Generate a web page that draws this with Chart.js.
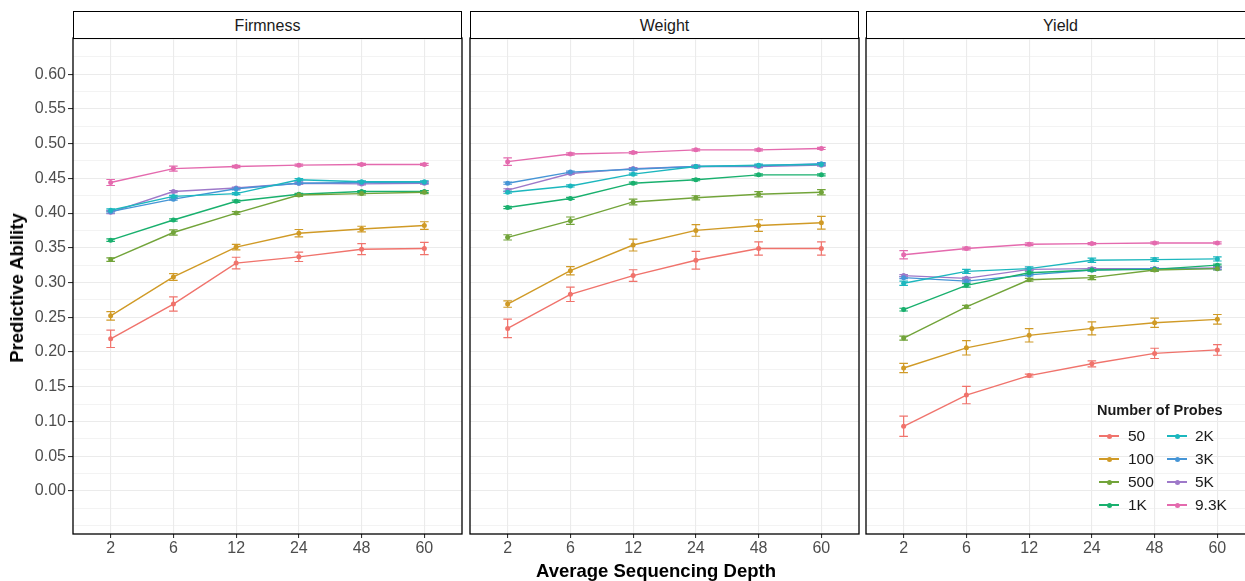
<!DOCTYPE html>
<html><head><meta charset="utf-8">
<script src="https://cdn.jsdelivr.net/npm/chart.js@4/dist/chart.umd.min.js"></script>
<style>
body{margin:0;width:1245px;height:581px;overflow:hidden;background:#fff;position:relative;font-family:"Liberation Sans",Arial,sans-serif}
canvas{position:absolute;left:0;top:0}
.strip{position:absolute;top:11px;height:28px;line-height:27px;text-align:center;font-size:16px;color:#1a1a1a;border:1.3px solid #000;box-sizing:border-box;background:#fff}
.ytitle{position:absolute;left:17px;top:288px;transform:translate(-50%,-50%) rotate(-90deg);font-weight:bold;font-size:18.5px;color:#000;white-space:nowrap}
.xtitle{position:absolute;left:656px;top:571px;transform:translate(-50%,-50%);font-weight:bold;font-size:18.5px;color:#000;white-space:nowrap}
.lg{position:absolute;white-space:nowrap}
</style>
</head><body>
<script>
// ---------- data ----------
const depthLabels = ['2','6','12','24','48','60'];
const probeLabels = ['50','100','500','1K','2K','3K','5K','9.3K'];
const traitNames = ['Firmness','Weight','Yield'];
const yTickLabels = ['0.00','0.05','0.10','0.15','0.20','0.25','0.30','0.35','0.40','0.45','0.50','0.55','0.60'];

const firmnessMean = [
  [0.219,0.269,0.328,0.337,0.348,0.349],
  [0.252,0.308,0.351,0.371,0.377,0.382],
  [0.333,0.372,0.400,0.426,0.428,0.430],
  [0.361,0.390,0.417,0.427,0.431,0.431],
  [0.404,0.424,0.428,0.448,0.445,0.445],
  [0.402,0.420,0.435,0.443,0.444,0.444],
  [0.401,0.431,0.436,0.443,0.442,0.443],
  [0.444,0.464,0.467,0.469,0.470,0.470]
];
const firmnessErr = [
  [0.0125,0.0103,0.0084,0.0067,0.0079,0.0089],
  [0.0062,0.0048,0.0040,0.0053,0.0040,0.0055],
  [0.0026,0.0038,0.0020,0.0020,0.0020,0.0020],
  [0.0018,0.0015,0.0015,0.0015,0.0015,0.0015],
  [0.0020,0.0015,0.0015,0.0015,0.0015,0.0015],
  [0.0020,0.0015,0.0015,0.0015,0.0015,0.0015],
  [0.0020,0.0015,0.0015,0.0015,0.0015,0.0015],
  [0.0043,0.0036,0.0015,0.0015,0.0015,0.0015]
];
const weightMean = [
  [0.234,0.283,0.310,0.332,0.349,0.349],
  [0.269,0.317,0.354,0.375,0.382,0.386],
  [0.365,0.389,0.416,0.422,0.427,0.430],
  [0.408,0.421,0.443,0.448,0.455,0.455],
  [0.430,0.439,0.456,0.467,0.469,0.470],
  [0.443,0.459,0.463,0.467,0.468,0.471],
  [0.433,0.457,0.464,0.467,0.467,0.469],
  [0.474,0.485,0.487,0.491,0.491,0.493]
];
const weightErr = [
  [0.0132,0.0103,0.0084,0.0127,0.0096,0.0096],
  [0.0046,0.0060,0.0086,0.0084,0.0084,0.0091],
  [0.0038,0.0053,0.0041,0.0029,0.0038,0.0038],
  [0.0015,0.0015,0.0015,0.0015,0.0015,0.0015],
  [0.0015,0.0015,0.0015,0.0015,0.0015,0.0015],
  [0.0015,0.0015,0.0015,0.0015,0.0015,0.0015],
  [0.0020,0.0015,0.0015,0.0015,0.0015,0.0015],
  [0.0055,0.0015,0.0015,0.0015,0.0015,0.0015]
];
const yieldMean = [
  [0.093,0.138,0.166,0.183,0.198,0.203],
  [0.177,0.206,0.224,0.234,0.242,0.247],
  [0.220,0.265,0.304,0.307,0.318,0.320],
  [0.261,0.296,0.314,0.318,0.319,0.325],
  [0.299,0.316,0.320,0.332,0.333,0.334],
  [0.307,0.302,0.311,0.318,0.320,0.320],
  [0.310,0.306,0.319,0.320,0.320,0.321],
  [0.340,0.349,0.355,0.356,0.357,0.357]
];
const yieldErr = [
  [0.0146,0.0125,0.0020,0.0043,0.0074,0.0077],
  [0.0067,0.0103,0.0096,0.0094,0.0067,0.0070],
  [0.0029,0.0020,0.0020,0.0029,0.0020,0.0020],
  [0.0020,0.0025,0.0015,0.0015,0.0015,0.0015],
  [0.0030,0.0030,0.0025,0.0030,0.0025,0.0030],
  [0.0015,0.0015,0.0015,0.0015,0.0015,0.0015],
  [0.0015,0.0015,0.0015,0.0015,0.0015,0.0015],
  [0.0060,0.0020,0.0020,0.0015,0.0015,0.0015]
];
const probeColors = ['#F0736C','#D09A26','#72A43A','#19B06E','#1CB7BE','#4595D6','#9E79C9','#E46AAE'];

// ---------- layout ----------
const CW = 1270, CH = 581;
const panelLefts = [73, 470, 866];
const panelW = 389, panelTop = 38, panelBottom = 534, xAxisH = 30;
const meansByTrait = [firmnessMean, weightMean, yieldMean];
const errsByTrait = [firmnessErr, weightErr, yieldErr];

function yLabelAt(index){
  const k = index - 2;
  return (k >= 0 && k <= 24 && k % 2 === 0) ? yTickLabels[k/2] : '';
}

const errorBarPlugin = {
  id: 'errorBars',
  beforeDatasetsDraw(chart){
    const {ctx, scales:{x, y}} = chart;
    ctx.save();
    chart.data.datasets.forEach(ds => {
      ctx.strokeStyle = ds.borderColor;
      ctx.lineWidth = 1.2;
      ds.data.forEach((pt, i) => {
        const e = ds.errors[i];
        const px = x.getPixelForValue(pt.x);
        const y1 = y.getPixelForValue(pt.y + e);
        const y2 = y.getPixelForValue(pt.y - e);
        ctx.beginPath();
        ctx.moveTo(px, y1); ctx.lineTo(px, y2);
        ctx.moveTo(px - 4.3, y1); ctx.lineTo(px + 4.3, y1);
        ctx.moveTo(px - 4.3, y2); ctx.lineTo(px + 4.3, y2);
        ctx.stroke();
      });
    });
    ctx.restore();
  }
};
const borderPlugin = {
  id: 'panelBorder',
  afterDraw(chart){
    const {ctx, chartArea:a} = chart;
    ctx.save();
    ctx.strokeStyle = '#000';
    ctx.lineWidth = 1.3;
    ctx.strokeRect(a.left, a.top, a.right - a.left, a.bottom - a.top);
    ctx.restore();
  }
};

function makeChart(p){
  const canvas = document.createElement('canvas');
  canvas.width = CW; canvas.height = CH;
  canvas.style.width = CW + 'px'; canvas.style.height = CH + 'px';
  document.body.appendChild(canvas);
  const yAxisW = p === 0 ? panelLefts[0] : 0;
  const datasets = probeLabels.map((lab, s) => ({
    label: lab,
    data: meansByTrait[p][s].map((v, i) => ({x: i, y: v})),
    errors: errsByTrait[p][s],
    borderColor: probeColors[s],
    backgroundColor: probeColors[s],
    borderWidth: 1.4,
    pointRadius: 2.5,
    pointHoverRadius: 2.5,
    pointBorderWidth: 0,
    fill: false,
    tension: 0
  }));
  new Chart(canvas, {
    type: 'line',
    data: { datasets },
    plugins: [errorBarPlugin, borderPlugin],
    options: {
      responsive: false,
      animation: false,
      devicePixelRatio: 1,
      events: [],
      layout: { padding: { left: panelLefts[p] - yAxisW, right: CW - panelLefts[p] - panelW, top: panelTop, bottom: CH - panelBottom - xAxisH } },
      plugins: { legend: { display: false }, tooltip: { enabled: false } },
      scales: {
        x: {
          type: 'linear', min: -0.6, max: 5.6,
          afterBuildTicks: s => { s.ticks = depthLabels.map((_, i) => ({value: i})); },
          afterFit: s => { s.height = xAxisH; },
          border: { display: false },
          grid: { color: '#ebebeb', lineWidth: 1.1, tickColor: '#333', tickLength: 4, drawTicks: true },
          ticks: { autoSkip: false, maxRotation: 0, padding: 1, color: '#4d4d4d', font: { family: '"Liberation Sans", Arial, sans-serif', size: 16 },
                   callback: v => depthLabels[v] }
        },
        y: {
          type: 'linear', min: -0.062, max: 0.652,
          afterBuildTicks: s => { const t = []; for (let k = -2; k <= 26; k++) t.push({value: k * 0.025}); s.ticks = t; },
          afterFit: s => { s.width = yAxisW; },
          border: { display: false },
          grid: {
            color: '#ebebeb',
            lineWidth: c => (yLabelAt(c.index) ? 1.1 : 0.6),
            tickColor: c => (yLabelAt(c.index) ? '#333' : 'rgba(0,0,0,0)'),
            tickLength: 5,
            drawTicks: p === 0
          },
          ticks: { display: p === 0, autoSkip: false, padding: 2, color: '#4d4d4d', font: { family: '"Liberation Sans", Arial, sans-serif', size: 16 },
                   callback: (v, i) => yLabelAt(i) }
        }
      }
    }
  });
  const strip = document.createElement('div');
  strip.className = 'strip';
  strip.style.left = panelLefts[p] + 'px';
  strip.style.width = panelW + 'px';
  strip.textContent = traitNames[p];
  document.body.appendChild(strip);
}
[0, 1, 2].forEach(makeChart);

// axis titles
const yt = document.createElement('div'); yt.className = 'ytitle'; yt.textContent = 'Predictive Ability'; document.body.appendChild(yt);
const xt = document.createElement('div'); xt.className = 'xtitle'; xt.textContent = 'Average Sequencing Depth'; document.body.appendChild(xt);

// legend
(function(){
  const title = document.createElement('div');
  title.className = 'lg';
  title.style.cssText = 'left:1097px;top:402px;font-weight:bold;font-size:14.5px;line-height:16px;color:#1a1a1a';
  title.textContent = 'Number of Probes';
  document.body.appendChild(title);
  const rowY = [436, 459, 482, 505];
  const keyX = [1099, 1167];
  const textX = [1128, 1195];
  probeLabels.forEach((lab, s) => {
    const col = Math.floor(s / 4), row = s % 4;
    const line = document.createElement('div');
    line.className = 'lg';
    line.style.cssText = `left:${keyX[col]}px;top:${rowY[row]-1}px;width:20px;height:2px;background:${probeColors[s]}`;
    document.body.appendChild(line);
    const dot = document.createElement('div');
    dot.className = 'lg';
    dot.style.cssText = `left:${keyX[col]+7.5}px;top:${rowY[row]-2.5}px;width:5px;height:5px;border-radius:50%;background:${probeColors[s]}`;
    document.body.appendChild(dot);
    const t = document.createElement('div');
    t.className = 'lg';
    t.style.cssText = `left:${textX[col]}px;top:${rowY[row]-9}px;line-height:18px;font-size:15.5px;color:#1a1a1a`;
    t.textContent = lab;
    document.body.appendChild(t);
  });
})();
</script>
</body></html>
